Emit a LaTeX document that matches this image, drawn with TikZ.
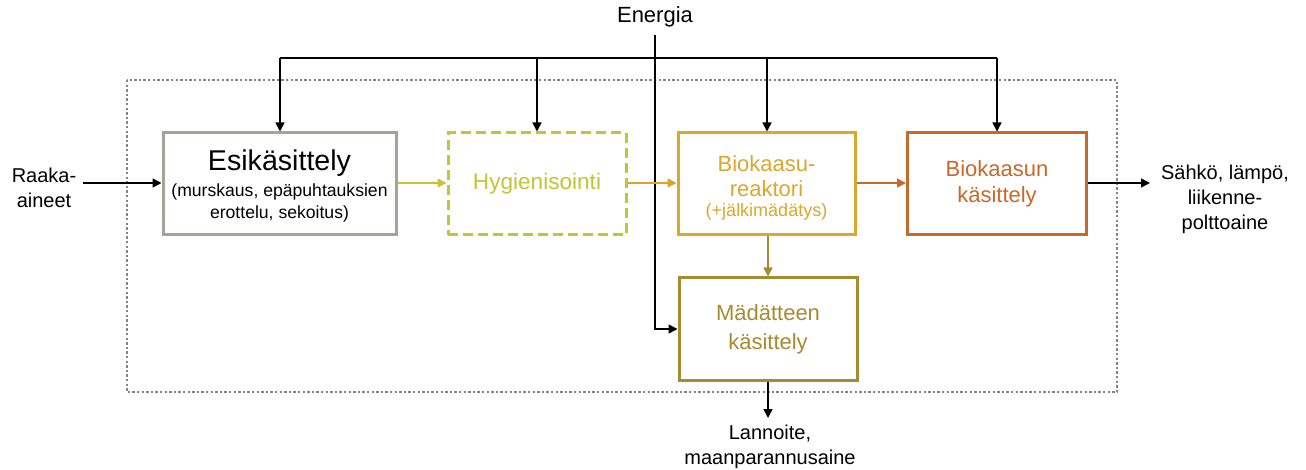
\documentclass[tikz,border=0pt]{standalone}
\usepackage{fontspec}
\setmainfont{Liberation Sans}
\usetikzlibrary{arrows.meta}
\definecolor{cEsik}{HTML}{A8A396}
\definecolor{cHyg}{HTML}{C2C636}
\definecolor{cReak}{HTML}{D9A82C}
\definecolor{cBkas}{HTML}{C8692C}
\definecolor{cMad}{HTML}{A88A30}
\definecolor{cHtoR}{HTML}{E0A030}
\definecolor{cFrame}{HTML}{85857F}
\tikzset{
  proc/.style={draw, line width=1.5pt, fill=white, align=center, inner sep=0pt},
  conn/.style={line width=0.75pt, -{Triangle[length=4.5pt,width=4.5pt]}},
  lbl/.style={align=center, font=\fontsize{11}{12.5}\selectfont, inner sep=0pt},
  outlbl/.style={align=center, font=\fontsize{10}{12.5}\selectfont, inner sep=0pt},
}
\begin{document}
\begin{tikzpicture}[x=0.5pt,y=-0.5pt]
\useasboundingbox (0,0) rectangle (1306,470);
% dotted frame
\draw[cFrame, line width=1.35pt, dash pattern=on 1.2pt off 1.1pt] (127,80) rectangle (1117,392);
% boxes
\node[proc, draw=cEsik, minimum width=116.5pt, minimum height=51pt] (esik) at (279.5,184) {};
\node[lbl, font=\fontsize{14.3}{16}\selectfont] (esikt) at (279.5,163) {Esikäsittely};
\node[lbl, anchor=north, font=\fontsize{8.8}{10.8}\selectfont] (esiks) at (279.5,183.5) {(murskaus, epäpuhtauksien\\ erottelu, sekoitus)};
\node[proc, draw=cHyg, dashed, dash pattern=on 5pt off 2.5pt, minimum width=89pt, minimum height=51pt, text=cHyg, font=\fontsize{11.3}{12.5}\selectfont] (hyg) at (537,184) {Hygienisointi};
\node[proc, draw=cReak, minimum width=88.5pt, minimum height=51pt] (reak) at (766.5,184) {};
\node[lbl, text=cReak] (reakt) at (766.5,176) {Biokaasu-\\reaktori};
\node[lbl, text=cReak, font=\fontsize{9}{10.5}\selectfont] (reaks) at (766.5,212) {(+jälkimädätys)};
\node[proc, draw=cBkas, minimum width=89.5pt, minimum height=51pt, text=cBkas, font=\fontsize{11}{12.8}\selectfont] (bkas) at (997,184) {Biokaasun\\käsittely};
\node[proc, draw=cMad, minimum width=89pt, minimum height=51pt, text=cMad, font=\fontsize{11}{14.5}\selectfont] (mad) at (768,329) {Mädätteen\\käsittely};
% outside texts
\node[lbl] (energia) at (655,17) {Energia};
\node[outlbl] (raaka) at (44,188) {Raaka-\\aineet};
\node[outlbl] (sahko) at (1225,199) {Sähkö, lämpö,\\liikenne-\\polttoaine};
\node[outlbl, anchor=north] (lann) at (770,425) {Lannoite,\\maanparannusaine};
\coordinate (rin) at (83,183);
\coordinate (sout) at (1150,183);
\coordinate (lout) at (768,418);
% energy distribution
\coordinate (etop) at (655,35);
\coordinate (hl) at (280,58);
\coordinate (hr) at (997,58);
\draw[line width=0.75pt] (hl) -- (hr);
\draw[conn] (hl) -- (esik.north -| hl);
\draw[conn] (537,58) -- (hyg.north);
\draw[conn] (767,58) -- (reak.north -| 767,0);
\draw[conn] (hr) -- (bkas.north);
\draw[conn] (etop) |- (mad.west);
% main flow
\draw[conn] (rin) -- (esik.west |- rin);
\draw[conn, cHyg] (esik.east |- rin) -- (hyg.west |- rin);
\draw[conn, cHtoR] (hyg.east |- rin) -- (reak.west |- rin);
\draw[conn, cBkas] (reak.east |- rin) -- (bkas.west |- rin);
\draw[conn] (bkas.east |- rin) -- (sout);
\draw[conn, cMad] (reak.south -| mad.north) -- (mad.north);
\draw[conn] (mad.south) -- (lout);
\end{tikzpicture}
\end{document}
